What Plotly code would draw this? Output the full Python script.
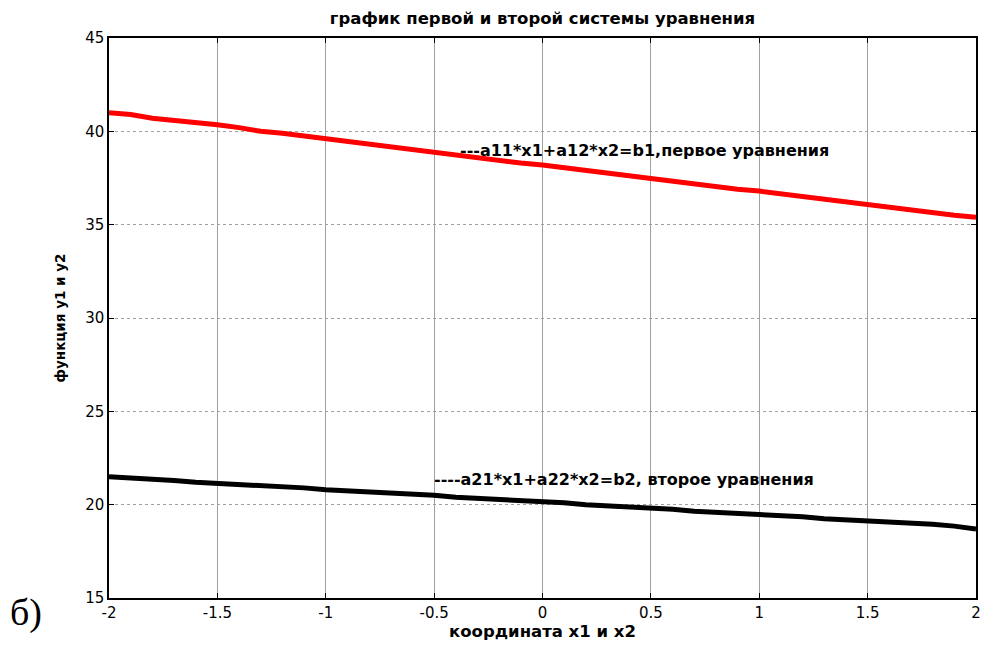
import plotly.graph_objects as go

x_vals = [-2.0, -1.9, -1.8, -1.7, -1.6, -1.5, -1.4, -1.3, -1.2, -1.1, -1.0,
          -0.9, -0.8, -0.7, -0.6, -0.5, -0.4, -0.3, -0.2, -0.1, 0.0,
          0.1, 0.2, 0.3, 0.4, 0.5, 0.6, 0.7, 0.8, 0.9, 1.0,
          1.1, 1.2, 1.3, 1.4, 1.5, 1.6, 1.7, 1.8, 1.9, 2.0]
y1_vals = [41.0, 40.9, 40.7, 40.6, 40.45, 40.35, 40.2, 40.0, 39.9, 39.75, 39.6,
           39.5, 39.35, 39.15, 39.05, 38.9, 38.75, 38.6, 38.45, 38.3, 38.2,
           38.05, 37.9, 37.75, 37.6, 37.5, 37.35, 37.2, 37.05, 36.9, 36.8,
           36.65, 36.5, 36.35, 36.2, 36.1, 35.95, 35.8, 35.65, 35.5, 35.4]
y2_vals = [21.5, 21.45, 21.35, 21.3, 21.2, 21.15, 21.1, 21.0, 20.95, 20.9, 20.8,
           20.75, 20.7, 20.6, 20.55, 20.5, 20.4, 20.35, 20.3, 20.2, 20.15,
           20.1, 20.0, 19.95, 19.85, 19.8, 19.75, 19.65, 19.6, 19.55, 19.45,
           19.4, 19.35, 19.25, 19.2, 19.15, 19.05, 19.0, 18.95, 18.85, 18.7]

x_ticks = [-2, -1.5, -1, -0.5, 0, 0.5, 1, 1.5, 2]
x_tick_labels = ["-2", "-1.5", "-1", "-0.5", "0", "0.5", "1", "1.5", "2"]
y_ticks = [15, 20, 25, 30, 35, 40, 45]

title_text = "график первой и второй системы уравнения"
x_title = "координата x1 и x2"
y_title = "функция y1 и y2"
label1 = "---a11*x1+a12*x2=b1,первое уравнения"
label2 = "----a21*x1+a22*x2=b2, второе уравнения"
label1_pos = (-0.39, 39.0)
label2_pos = (-0.51, 21.35)

fig = go.Figure()
fig.add_trace(go.Scatter(x=x_vals, y=y1_vals, mode="lines",
                         line=dict(color="#ff0000", width=5), showlegend=False))
fig.add_trace(go.Scatter(x=x_vals, y=y2_vals, mode="lines",
                         line=dict(color="#000000", width=5), showlegend=False))

font_b = "DejaVu Sans, Arial, sans-serif"

fig.add_annotation(x=label1_pos[0], y=label1_pos[1], text="<b>" + label1 + "</b>",
                   showarrow=False, xanchor="left", yanchor="middle",
                   font=dict(family=font_b, size=16, color="black"))
fig.add_annotation(x=label2_pos[0], y=label2_pos[1], text="<b>" + label2 + "</b>",
                   showarrow=False, xanchor="left", yanchor="middle",
                   font=dict(family=font_b, size=16, color="black"))

fig.add_annotation(x=-0.116, y=-0.025, xref="paper", yref="paper", text="б)",
                   showarrow=False, xanchor="left", yanchor="middle",
                   font=dict(family="Liberation Serif, Times New Roman, serif", size=38, color="black"))

fig.update_layout(
    width=987, height=651,
    margin=dict(l=109, r=6, t=38, b=53),
    paper_bgcolor="white", plot_bgcolor="white",
    title=dict(text="<b>" + title_text + "</b>", x=0.5, xanchor="center",
               xref="paper", y=0.972, yanchor="middle",
               font=dict(family=font_b, size=16.5, color="black")),
    xaxis=dict(range=[-2, 2], tickvals=x_ticks, ticktext=x_tick_labels,
               showgrid=True, gridcolor="#a0a0a0", gridwidth=1,
               showline=True, linecolor="black", linewidth=1.5, mirror="ticks",
               ticks="inside", ticklen=5, tickcolor="black", zeroline=False,
               tickfont=dict(family=font_b, size=15, color="black"),
               title=dict(text="<b>" + x_title + "</b>", standoff=4,
                          font=dict(family=font_b, size=16.5, color="black"))),
    yaxis=dict(range=[15, 45], tickvals=y_ticks,
               showgrid=True, gridcolor="#a0a0a0", gridwidth=1, griddash="dot",
               showline=True, linecolor="black", linewidth=1.5, mirror="ticks",
               ticks="inside", ticklen=5, tickcolor="black", zeroline=False,
               tickfont=dict(family=font_b, size=15, color="black"),
               title=dict(text="<b>" + y_title + "</b>", standoff=16,
                          font=dict(family=font_b, size=13.5, color="black"))),
)

fig.write_html("out.html", config={"displayModeBar": False})

with open("out.html", "r", encoding="utf-8") as f:
    html = f.read()
html = html.replace("<body>", '<body style="margin:0;">', 1)
with open("out.html", "w", encoding="utf-8") as f:
    f.write(html)
